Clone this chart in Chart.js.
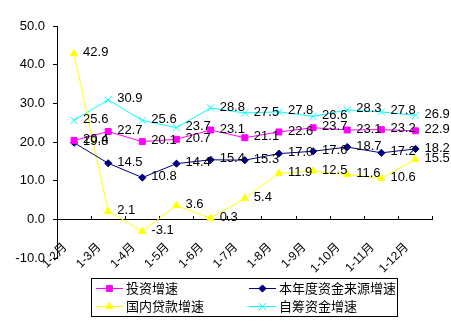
<!DOCTYPE html>
<html>
<head>
<meta charset="utf-8">
<script src="https://cdn.jsdelivr.net/npm/chart.js@4.4.1/dist/chart.umd.min.js"></script>
<style>
  html, body { margin: 0; padding: 0; background: #ffffff; }
  canvas { display: block; }
</style>
</head>
<body>
<canvas id="chart" width="451" height="326"></canvas>
<script>
// Month ranges (cumulative, January through month N)
const categories = ['1-2月', '1-3月', '1-4月', '1-5月', '1-6月', '1-7月', '1-8月', '1-9月', '1-10月', '1-11月', '1-12月'];

// Growth rates, %
const investmentGrowth = [20.4, 22.7, 20.1, 20.7, 23.1, 21.1, 22.6, 23.7, 23.1, 23.2, 22.9];
const fundingSourceGrowth = [19.8, 14.5, 10.8, 14.4, 15.4, 15.3, 17.0, 17.6, 18.7, 17.2, 18.2];
const domesticLoanGrowth = [42.9, 2.1, -3.1, 3.6, 0.3, 5.4, 11.9, 12.5, 11.6, 10.6, 15.5];
const selfRaisedGrowth = [25.6, 30.9, 25.6, 23.7, 28.8, 27.5, 27.8, 26.6, 28.3, 27.8, 26.9];

const seriesNames = ['投资增速', '本年度资金来源增速', '国内贷款增速', '自筹资金增速'];

// Value axis range and step
const yMin = -10;
const yMax = 50;
const yStep = 10;

const NUM_FONT = "'Liberation Sans', Arial, sans-serif";
const CJK_FONT = "'Liberation Sans', 'Noto Sans CJK SC', sans-serif";

function series(label, data, color, pointStyle, radius) {
  return {
    label,
    data,
    borderColor: color,
    backgroundColor: color,
    borderWidth: 1,
    pointStyle,
    pointRadius: radius,
    pointHoverRadius: radius,
    pointBackgroundColor: color,
    pointBorderColor: color,
    pointBorderWidth: 1,
    tension: 0,
    fill: false
  };
}

// Value labels to the right of every point
const valueLabels = {
  id: 'valueLabels',
  afterDatasetsDraw(chart) {
    const ctx = chart.ctx;
    ctx.save();
    ctx.font = '13px ' + NUM_FONT;
    ctx.fillStyle = '#000000';
    ctx.textAlign = 'left';
    ctx.textBaseline = 'middle';
    chart.data.datasets.forEach((ds, i) => {
      const meta = chart.getDatasetMeta(i);
      meta.data.forEach((pt, j) => {
        ctx.fillText(ds.data[j].toFixed(1), pt.x + 9, pt.y - 1);
      });
    });
    ctx.restore();
  }
};

// Boxed two-column legend under the plot
const boxedLegend = {
  id: 'boxedLegend',
  afterDraw(chart) {
    const ctx = chart.ctx;
    const box = { x: 91.5, y: 278.5, w: 306, h: 38 };
    const cols = [96, 249];
    const rows = [288.5, 306.5];
    const lineLen = 27;
    ctx.save();
    ctx.strokeStyle = '#000000';
    ctx.lineWidth = 1;
    ctx.strokeRect(box.x, box.y, box.w, box.h);
    ctx.font = '13px ' + CJK_FONT;
    ctx.textAlign = 'left';
    ctx.textBaseline = 'middle';
    chart.data.datasets.forEach((ds, i) => {
      const x = cols[i % 2];
      const y = rows[Math.floor(i / 2)];
      ctx.strokeStyle = ds.borderColor;
      ctx.lineWidth = 1;
      ctx.beginPath();
      ctx.moveTo(x, y);
      ctx.lineTo(x + lineLen, y);
      ctx.stroke();
      ctx.fillStyle = ds.pointBackgroundColor;
      ctx.strokeStyle = ds.pointBorderColor;
      Chart.helpers.drawPoint(ctx, {
        pointStyle: ds.pointStyle,
        radius: ds.pointRadius,
        borderWidth: 1,
        rotation: 0
      }, x + lineLen / 2, y);
      ctx.fillStyle = '#000000';
      ctx.fillText(ds.label, x + lineLen + 3, y + 1);
    });
    ctx.restore();
  }
};

new Chart(document.getElementById('chart'), {
  type: 'line',
  data: {
    labels: categories,
    datasets: [
      series(seriesNames[0], investmentGrowth, '#FF00FF', 'rect', 4.2),
      series(seriesNames[1], fundingSourceGrowth, '#000080', 'rectRot', 3.6),
      series(seriesNames[2], domesticLoanGrowth, '#FFFF00', 'triangle', 4.2),
      series(seriesNames[3], selfRaisedGrowth, '#00FFFF', 'crossRot', 5)
    ]
  },
  options: {
    responsive: false,
    animation: false,
    events: [],
    layout: { padding: { top: 26, right: 6, bottom: 68, left: 0 } },
    plugins: {
      legend: { display: false },
      tooltip: { enabled: false },
      title: { display: false }
    },
    scales: {
      x: {
        type: 'category',
        offset: true,
        position: { y: 0 },
        grid: {
          offset: true,
          drawOnChartArea: false,
          drawTicks: true,
          tickLength: -4,
          color: '#000000',
          lineWidth: 1
        },
        border: { display: true, color: '#000000', width: 1 },
        ticks: {
          autoSkip: false,
          minRotation: 45,
          maxRotation: 45,
          labelOffset: -9,
          padding: 25,
          color: '#000000',
          font: { family: CJK_FONT, size: 12 }
        }
      },
      y: {
        min: yMin,
        max: yMax,
        afterFit(scale) { scale.width = 57; },
        grid: {
          drawOnChartArea: false,
          drawTicks: true,
          tickLength: 4,
          color: '#000000',
          lineWidth: 1
        },
        border: { display: true, color: '#000000', width: 1 },
        ticks: {
          stepSize: yStep,
          padding: 8,
          color: '#000000',
          font: { family: NUM_FONT, size: 13 },
          callback: (v) => Number(v).toFixed(1)
        }
      }
    }
  },
  plugins: [valueLabels, boxedLegend]
});
</script>
</body>
</html>
